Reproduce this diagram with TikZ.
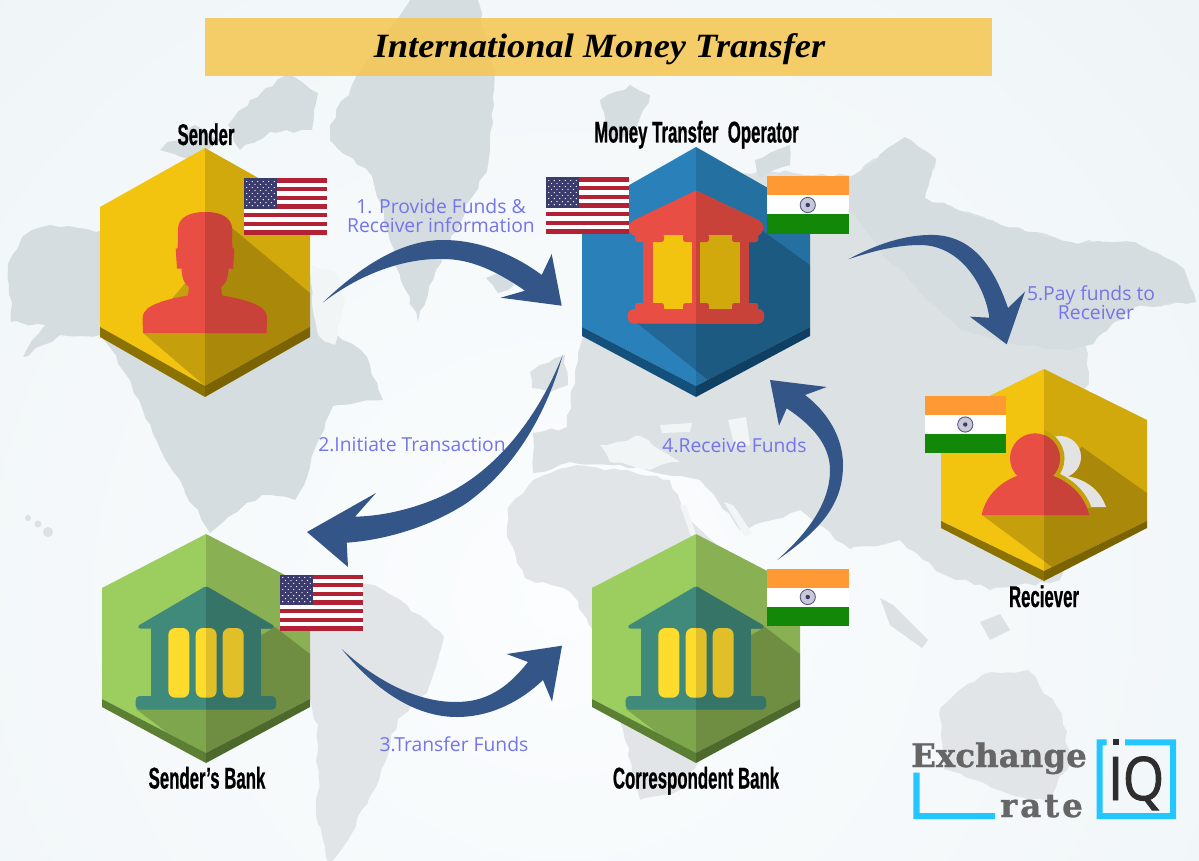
\documentclass[tikz,border=0pt]{standalone}
\usepackage{fontspec}
\usetikzlibrary{decorations.pathmorphing}
\setmainfont{Liberation Serif}
\newfontfamily\titlefont[FakeStretch=1.07]{Liberation Serif Bold Italic}
\newfontfamily\capfont[FakeStretch=0.56,FakeBold=0.6]{Liberation Sans Bold}
\newfontfamily\stepfont{Open Sans}
\newfontfamily\logofont[FakeBold=1]{DejaVu Serif Bold}
\newfontfamily\ratefont[LetterSpace=9,FakeBold=1]{DejaVu Serif Bold}
\newfontfamily\iqfont[FakeStretch=0.88,FakeBold=1.6]{Open Sans}
\definecolor{bgout}{HTML}{E8F0F3}
\definecolor{bgin}{HTML}{FBFDFE}
\definecolor{mapdark}{HTML}{D5DDE0}
\definecolor{mapmid}{HTML}{DCE1E3}
\definecolor{maplite}{HTML}{E2E5E7}
\definecolor{seacol}{HTML}{F2F5F6}
\definecolor{band}{HTML}{F5C650}
\definecolor{arrowblue}{HTML}{335587}
\definecolor{steptxt}{HTML}{7474EC}
\definecolor{redL}{HTML}{E94E45}
\definecolor{redR}{HTML}{C9423A}
\definecolor{yelL}{HTML}{F3C40F}
\definecolor{yelR}{HTML}{D2A90D}
\definecolor{yelH}{HTML}{C3A00C}
\definecolor{yelRimL}{HTML}{8B7200}
\definecolor{yelRimR}{HTML}{7A6300}
\definecolor{bluL}{HTML}{2A80B9}
\definecolor{bluR}{HTML}{2470A0}
\definecolor{bluRimL}{HTML}{14507C}
\definecolor{bluRimR}{HTML}{0F4064}
\definecolor{grnL}{HTML}{9CCD5F}
\definecolor{grnR}{HTML}{89B052}
\definecolor{grnRimL}{HTML}{5B7F33}
\definecolor{grnRimR}{HTML}{4D6A2C}
\definecolor{tealL}{HTML}{3F8A7A}
\definecolor{tealR}{HTML}{367468}
\definecolor{colL}{HTML}{FDDC2E}
\definecolor{colR}{HTML}{E0BF28}
\definecolor{usred}{HTML}{B22234}
\definecolor{usblue}{HTML}{3C3B6E}
\definecolor{insaf}{HTML}{FF9933}
\definecolor{ingrn}{HTML}{138808}
\definecolor{logogray}{HTML}{666666}
\definecolor{logocyan}{HTML}{22C7FF}
\tikzset{
  caplabel/.style={inner sep=0pt,anchor=base,font=\capfont\fontsize{30}{30}\selectfont,text=black},
  steplabel/.style={inner sep=0pt,align=center,text=steptxt,font=\stepfont\fontsize{19.3}{19}\selectfont},
  arrowshape/.style={fill=arrowblue},
  hexshadow/.style={fill=black,fill opacity=.19},
  mapshape/.style={decorate,decoration={random steps,segment length=9,amplitude=2.2}}
}
\newcommand\hexcols[4]{\def\hL{#1}\def\hR{#2}\def\hrL{#3}\def\hrR{#4}}
\newcommand\hexa[8]{%
  \fill[\hL] (#1,#2) -- (#1-#3,#4) -- (#1-#3,#5) -- (#1,#7) -- cycle;
  \fill[\hR] (#1,#2) -- (#1+#3,#4) -- (#1+#3,#5) -- (#1,#7) -- cycle;
  \fill[\hrL] (#1-#3,#5) -- (#1,#7) -- (#1,#8) -- (#1-#3,#6) -- cycle;
  \fill[\hrR] (#1+#3,#5) -- (#1,#7) -- (#1,#8) -- (#1+#3,#6) -- cycle;
}
\newcommand\usflag[2]{%
  \fill[white] (#1,#2) rectangle ++(82.5,56);
  \foreach \s in {0,2,...,12}{\fill[usred] (#1,#2+\s*56/13) rectangle ++(82.5,56/13);}
  \fill[usblue] (#1,#2) rectangle ++(33,30.15);
  \foreach \r in {1,...,9}{
    \pgfmathtruncatemacro\oddr{mod(\r,2)}
    \ifnum\oddr=1
      \foreach \c in {0,...,5}{\fill[white] (#1+2.75+\c*5.5,#2+\r*3.015) circle (.65);}
    \else
      \foreach \c in {0,...,4}{\fill[white] (#1+5.5+\c*5.5,#2+\r*3.015) circle (.65);}
    \fi
  }
}
\newcommand\inflag[2]{%
  \fill[insaf] (#1,#2) rectangle ++(81.5,19);
  \fill[white] (#1,#2+19) rectangle ++(81.5,19);
  \fill[ingrn] (#1,#2+38) rectangle ++(81.5,19);
  \filldraw[fill=usblue!28,draw=usblue!85,line width=.9pt] (#1+40.75,#2+28.5) circle (7.6);
  \fill[usblue] (#1+40.75,#2+28.5) circle (2.2);
}
\newcommand\personicon[1]{%
  \fill[#1] (143,333) -- (142.5,318) .. controls (143,310) and (150,306) .. (158,303)
   .. controls (168,299) and (180,297) .. (188,295.5) -- (189,287)
   .. controls (184,284) and (182,278) .. (181.5,268.5) -- (177,268.5) -- (175.7,249) -- (177.7,248)
   -- (178,228) .. controls (179,217) and (190,212) .. (205,212)
   .. controls (220,212) and (231,217) .. (232,228) -- (232.3,248) -- (234.3,249) -- (233,268.5)
   -- (228.5,268.5) .. controls (228,278) and (226,284) .. (221,287) -- (222,295.5)
   .. controls (230,297) and (242,299) .. (252,303) .. controls (260,306) and (267,310) .. (267,318)
   -- (266.5,333) -- cycle;
}
\newcommand\receivericon[1]{%
  \fill[#1] (1035,458.3) circle (25);
  \fill[#1] (981.7,515) .. controls (986,492) and (1008,474) .. (1035,472)
     .. controls (1062,474) and (1084,492) .. (1089,515) -- cycle;
}
\newcommand\opicon[2]{%
  \fill[#1,rounded corners=2.5pt] (696,190.5) -- (632,221) -- (627.5,227) -- (632,235.5) -- (760,235.5) -- (764,227) -- (760,221) -- cycle;
  \fill[#1] (643,235) rectangle (749,310);
  \fill[#2] (652.7,235) rectangle (692.3,309);
  \fill[#2] (700,235) rectangle (740,309);
  \foreach \a/\b in {635/664,683/709,732/758}{
    \fill[#1,rounded corners=2.5pt] (\a,234) rectangle (\b,242);
    \fill[#1,rounded corners=2.5pt] (\a,303) rectangle (\b,311);
  }
  \fill[#1,rounded corners=6pt] (627.7,309) rectangle (764,323.5);
}
\newcommand\bankicon[2]{%
  \fill[#1,rounded corners=1.5pt] (206,586) -- (137.7,626) -- (138.5,628.5) -- (273.5,628.5) -- (274.3,626) -- cycle;
  \fill[#1] (151,628) rectangle (261,697);
  \fill[#1,rounded corners=4pt] (135.7,696) rectangle (276,709.5);
  \foreach \a in {168.3,195.7,222.7}{
    \fill[#2,rounded corners=7pt] (\a,628) rectangle (\a+21,697.7);
  }
}
\begin{document}
\begin{tikzpicture}[x=1pt,y=-1pt]
\pgfmathsetseed{7}
\useasboundingbox (0,0) rectangle (1199,861);
% background
\begin{scope}
\clip (0,0) rectangle (1199,861);
\fill[bgout] (0,0) rectangle (1199,861);
\shade[inner color=bgin,outer color=bgout] (-790,-750) rectangle (1910,1950);
% North America
\fill[mapdark,mapshape] plot[sharp cycle] coordinates {(8,264)(23,236)(50,225)(100,231)(180,215)(310,275)(337,335)(367,357)(383,400)(333,406)(310,467)(295,500)(262,495)(237,512)(210,533)(184,489)(153,434)(130,380)(100,335)(60,335)(23,357)(45,325)(11,322)};
\fill[seacol,mapshape] plot[sharp cycle] coordinates {(312,265)(335,272)(345,300)(335,345)(318,335)(312,300)};
% Arctic islands
\fill[mapdark,mapshape] plot[sharp cycle] coordinates {(250,100)(287,75)(318,93)(312,130)(270,132)(240,150)(228,125)};
\fill[mapdark,mapshape] plot[sharp cycle] coordinates {(160,150)(195,125)(222,140)(190,160)};
% Greenland
\fill[mapdark,mapshape] plot[sharp cycle] coordinates {(330,125)(352,85)(413,-5)(475,-5)(495,71)(488,165)(436,270)(418,322)(400,275)(372,176)(330,140)};
% Iceland, Hawaii, UK
\fill[mapdark,mapshape] plot[sharp cycle] coordinates {(486,278)(500,272)(514,285)(498,293)};
\fill[mapmid] (28,518) circle (3) (38,524) circle (3.5) (48,532) circle (5);
\fill[mapmid,mapshape] plot[sharp cycle] coordinates {(530,372)(540,365)(565,355)(568,385)(550,392)(532,388)};
% South America
\fill[maplite,mapshape] plot[sharp cycle] coordinates {(340,575)(383,590)(420,615)(444,637)(427,693)(398,719)(379,780)(344,846)(329,865)(318,824)(318,725)(298,670)(310,620)};
% Africa
\fill[maplite,mapshape] plot[sharp cycle] coordinates {(507,537)(510,505)(533,480)(577,465)(620,470)(670,480)(690,520)(740,570)(800,590)(760,650)(720,720)(680,790)(640,800)(620,720)(600,640)(570,592)(525,578)};
% Eurasia
\fill[mapmid,mapshape] plot[sharp cycle] coordinates {(533,433)(567,427)(575,370)(582,340)(640,200)(760,170)(852,176)(905,137)(936,159)(925,198)(1001,225)(1070,242)(1135,242)(1184,269)(1196,302)(1135,307)(1085,345)(1089,384)(1060,420)(1100,500)(1060,580)(990,590)(936,571)(900,540)(850,549)(800,510)(740,530)(700,480)(620,465)(570,462)(533,473)};
\fill[mapdark,mapshape] plot[sharp cycle] coordinates {(852,176)(905,137)(936,159)(925,198)(1001,225)(1070,242)(1135,242)(1184,269)(1196,302)(1135,307)(1090,345)(1070,350)(1020,345)(960,330)(880,250)(840,200)};
% Svalbard etc.
\fill[mapdark,mapshape] plot[sharp cycle] coordinates {(600,100)(630,85)(650,95)(635,135)(610,140)};
\fill[mapdark,mapshape] plot[sharp cycle] coordinates {(755,160)(790,145)(790,165)(760,178)};
% inland seas
\fill[seacol,mapshape] plot[sharp cycle] coordinates {(600,445)(640,436)(680,462)(650,470)(610,462)};
\fill[seacol] (660,425) -- (692,423) -- (690,432) -- (662,433) -- cycle;
\fill[seacol] (728,420) -- (746,417) -- (750,445) -- (735,448) -- cycle;
\fill[seacol] (724,502) -- (733,505) -- (752,533) -- (745,537) -- cycle;
\fill[seacol] (680,505) -- (686,505) -- (703,555) -- (698,556) -- cycle;
% SE Asia and Australia
\fill[mapmid] (880,598) -- (893,605) -- (928,640) -- (922,648) -- (890,625) -- cycle;
\fill[mapmid] (980,622) -- (1000,614) -- (1010,630) -- (990,640) -- cycle;
\fill[maplite,mapshape] plot[sharp cycle] coordinates {(940,708)(982,675)(1028,670)(1062,714)(1070,763)(1047,801)(1001,791)(944,769)};
\end{scope}
% title band
\fill[band,fill opacity=.85] (205,18) rectangle (992,76);
\node[inner sep=0pt,anchor=base,font=\titlefont\fontsize{34}{34}\selectfont] (title) at (599.5,58) {International Money Transfer};
% Sender
\hexcols{yelL}{yelR}{yelRimL}{yelRimR}
\hexa{205}{148}{105}{207}{327}{337}{386}{397}
\fill[hexshadow] (143,333) -- (205,386) -- (310,327) -- (310,293) -- (232,228) -- cycle;
\personicon{redL}
\begin{scope}\clip (205,0) rectangle (400,420);\personicon{redR}\end{scope}
\usflag{244}{178.5}
\node[caplabel] (sender) at (206,145) {Sender};
% Operator
\hexcols{bluL}{bluR}{bluRimL}{bluRimR}
\hexa{696}{147}{114}{212}{327}{336}{386}{397}
\fill[hexshadow] (637,323) -- (708,380) -- (810,327) -- (810,265) -- (750,222) -- cycle;
\opicon{redL}{yelL}
\begin{scope}\clip (696,0) rectangle (900,420);\opicon{redR}{yelR}\end{scope}
\usflag{546}{177.5}
\inflag{767}{176.5}
\node[caplabel] (operator) at (696.5,142.5) {Money Transfer\ \ Operator};
% Receiver
\hexcols{yelL}{yelR}{yelRimL}{yelRimR}
\hexa{1044}{369}{103}{420}{521}{528}{571}{581}
\fill[hexshadow] (982,515) -- (1052,567) -- (1147,521) -- (1147,493) -- (1082,447) -- cycle;
\fill[white!89!black] (1060,457) circle (21);
\fill[white!89!black] (1056,475) .. controls (1085,476) and (1100,490) .. (1106,507) -- (1060,507) -- cycle;
\begin{scope}
\clip (1044,400) rectangle (1150,507);
\draw[yelH,line width=9pt] (1035,458.3) circle (25);
\draw[yelH,line width=9pt] (1089,515) .. controls (1084,492) and (1062,474) .. (1035,472);
\end{scope}
\receivericon{redL}
\begin{scope}\clip (1044,400) rectangle (1150,560);\receivericon{redR}\end{scope}
\inflag{924.5}{396}
\node[caplabel] (receiver) at (1044,607) {Reciever};
% Sender's bank
\hexcols{grnL}{grnR}{grnRimL}{grnRimR}
\hexa{206}{534}{104}{588}{699}{707}{753}{763}
\fill[hexshadow] (136,709) -- (167,732.5) -- (206,753) -- (310,699) -- (310,654) -- (275,627) -- cycle;
\bankicon{tealL}{colL}
\begin{scope}\clip (206,560) rectangle (320,720);\bankicon{tealR}{colR}\end{scope}
\usflag{280}{574.5}
\node[caplabel] (sbank) at (207,788.5) {Sender’s Bank};
% Correspondent bank
\begin{scope}[shift={(490,0)}]
\hexa{206}{534}{104}{588}{699}{707}{753}{763}
\fill[hexshadow] (136,709) -- (167,732.5) -- (206,753) -- (310,699) -- (310,654) -- (275,627) -- cycle;
\bankicon{tealL}{colL}
\begin{scope}\clip (206,560) rectangle (320,720);\bankicon{tealR}{colR}\end{scope}
\end{scope}
\inflag{767}{568.5}
\node[caplabel] (cbank) at (696,788.5) {Correspondent Bank};
% arrows
\coordinate (a1s) at (322.7,302.7); \coordinate (a1e) at (561.7,305.7);
\coordinate (a2s) at (562.7,355);   \coordinate (a2e) at (307,532);
\coordinate (a3s) at (341.7,649);   \coordinate (a3e) at (562,645.7);
\coordinate (a4s) at (777.3,560);   \coordinate (a4e) at (770,380);
\coordinate (a5s) at (848.3,259.3); \coordinate (a5e) at (1006.7,344.3);
\fill[arrowshape] (a1s) .. controls (365,262) and (405,240) .. (443,240) .. controls (480,240) and (515,255) .. (541.7,275) -- (551.7,254) -- (a1e) -- (500.7,297.7) -- (525,290.7) .. controls (495,270) and (470,259) .. (443,259) .. controls (410,258) and (365,270) .. (a1s) -- cycle;
\fill[arrowshape] (a2s) .. controls (535,425) and (490,475) .. (440,497) .. controls (415,508) and (385,516) .. (355,516.7) -- (376,493) -- (a2e) -- (348,567) -- (346.7,542.7) .. controls (385,540) and (430,527) .. (466.7,503) .. controls (510,472) and (545,420) .. (a2s) -- cycle;
\fill[arrowshape] (a3s) .. controls (375,680) and (420,705) .. (463,701.7) .. controls (490,700) and (510,685) .. (528,662) -- (506.7,654) -- (a3e) -- (552,701.7) -- (543,680) .. controls (520,702) and (490,717) .. (456.7,717) .. controls (415,717) and (375,690) .. (a3s) -- cycle;
\fill[arrowshape] (a4s) .. controls (820,530) and (843,505) .. (843,465) .. controls (843,435) and (825,410) .. (805,395) -- (826.7,387) -- (a4e) -- (779,425.7) -- (786.7,408.3) .. controls (812,425) and (830,445) .. (830,470) .. controls (830,505) and (805,535) .. (a4s) -- cycle;
\fill[arrowshape] (a5s) .. controls (875,245) and (905,234) .. (935,235) .. controls (975,237) and (995,270) .. (1008,308) -- (1025,291.7) -- (a5e) -- (970,316.7) -- (989.3,317.7) .. controls (985,285) and (960,245) .. (920,245) .. controls (895,245) and (870,252) .. (a5s) -- cycle;
% step labels
\node[steplabel] (s1) at (441,215.5) {1. Provide Funds \&\\Receiver information};
\node[steplabel] (s2) at (412,445) {2.Initiate Transaction};
\node[steplabel] (s3) at (454,744) {3.Transfer Funds};
\node[steplabel] (s4) at (734.5,445) {4.Receive Funds};
\node[steplabel] (s5) at (1091,302.5) {5.Pay funds to\\\hspace*{10pt}Receiver};
% logo
\node[inner sep=0pt,anchor=base west,text=logogray,font=\logofont\fontsize{32.5}{33}\selectfont] (lex) at (911,767) {Exchange};
\node[inner sep=0pt,anchor=base west,text=logogray,font=\ratefont\fontsize{32.5}{33}\selectfont] (lrate) at (1000,817) {rate};
\fill[logocyan] (913.3,772.7) rectangle (919.5,819) (913.3,813) rectangle (995,819);
\fill[logocyan] (1106.7,739.3) -- (1096.7,739.3) -- (1096.7,819) -- (1176,819) -- (1176,739.3) -- (1125,739.3) -- (1125,745.3) -- (1170,745.3) -- (1170,813) -- (1102.7,813) -- (1102.7,745.3) -- (1106.7,745.3) -- cycle;
\fill[black!82] (1112.7,739) rectangle (1119,745);
\node[inner sep=0pt,anchor=base west,text=black!82,font=\iqfont\fontsize{60}{60}\selectfont] (liq) at (1108,800) {IQ};
\end{tikzpicture}
\end{document}
